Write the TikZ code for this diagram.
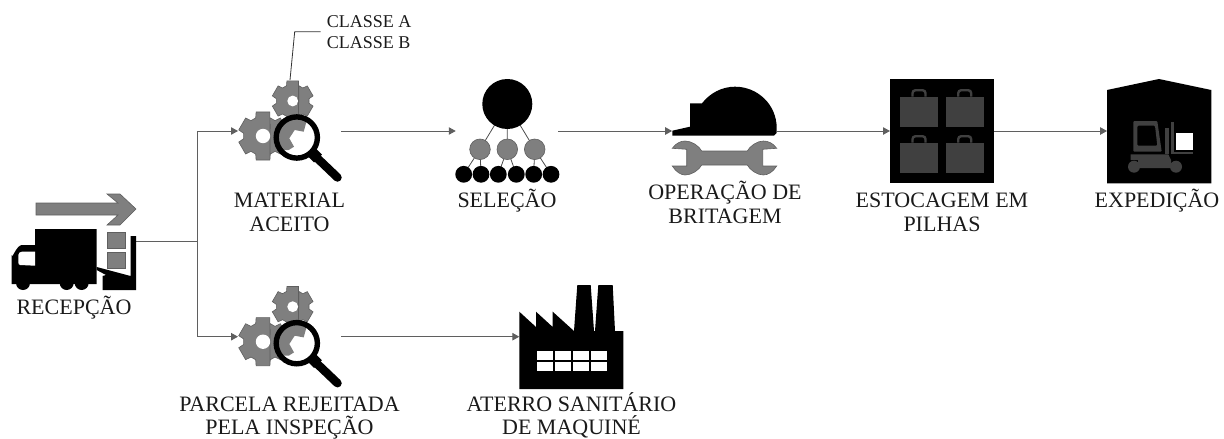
\documentclass[tikz,border=0pt]{standalone}
\usepackage{fontspec}
\setmainfont{Liberation Serif}
\usetikzlibrary{arrows.meta}
\definecolor{gfill}{HTML}{7F7F7F}
\definecolor{gline}{HTML}{5F5F5F}
\definecolor{dgrey}{HTML}{404040}
\definecolor{txt}{HTML}{1A1A1A}
\newcommand{\tall}{\rule{0pt}{21pt}}
\newcommand{\tallsmall}{\rule{0pt}{17pt}}
\tikzset{
  conn/.style={draw=gline,line width=1pt},
  tip/.style={-{Stealth[length=7pt,width=7.5pt,inset=0pt,fill=gline]}},
  leader/.style={draw=black!80,line width=0.8pt},
  icon/.style={inner sep=0pt,outer sep=0pt,minimum height=4pt},
  lab/.style={anchor=north,font=\fontsize{22}{24}\selectfont,text=txt,align=center,inner sep=0pt},
  labtight/.style={lab,font=\fontsize{22}{22.5}\selectfont},
  small/.style={anchor=north west,font=\fontsize{18}{21}\selectfont,text=txt,align=left,inner xsep=6pt,inner ysep=0pt},
  grey/.style={fill=gfill,draw=gline,line width=0.6pt},
  gearicon/.pic={
    \path[grey] (263,136) ++(74:25) \gearpath{263}{136}{25}{19.5}{90} -- cycle;
    \path[fill=white] (263,136) circle (7.2);
    \path[grey] (292.7,101) ++(74:21) \gearpath{292.7}{101}{21}{16.5}{90} -- cycle;
    \path[fill=white] (292.7,101) circle (5.4);
    \path[fill=white] (296.8,137.5) circle (20);
    \begin{scope}
      \clip (296.8,137.5) circle (20);
      \path[fill=gfill] (306,123.3) -- (303.7,131.7) -- (294.7,130) -- (289.3,138.3) -- (294,146.7) -- (288.7,150) -- (270,150) -- (270,110) -- (308,110) -- cycle;
    \end{scope}
    \draw[line width=5.4pt] (296.8,137.5) circle (20.6);
    \draw[line width=8.5pt,line cap=round] (316,157) -- (337.5,177.5);
    \draw[line width=11pt] (310.5,151) -- (318,158.5);
  },
}
\newcommand{\gearpath}[5]{%
  \foreach \k in {0,...,5}{
    -- ({#1+#3*cos(#5+60*\k-16)},{#2-#3*sin(#5+60*\k-16)})
    -- ({#1+#3*cos(#5+60*\k+16)},{#2-#3*sin(#5+60*\k+16)})
    -- ({#1+#4*cos(#5+60*\k+22)},{#2-#4*sin(#5+60*\k+22)})
    -- ({#1+#4*cos(#5+60*\k+38)},{#2-#4*sin(#5+60*\k+38)})
  }}
\begin{document}
\begin{tikzpicture}[x=1pt,y=-1pt]
\useasboundingbox (0,0) rectangle (1224,439);
% ---- anchors of the icons
\node[icon,minimum width=125pt] (recep) at (73.5,241.5) {};
\node[icon,minimum width=103pt] (gearA) at (289.5,131) {};
\node[icon,minimum width=102.5pt] (sel) at (507,131) {};
\node[icon,minimum width=104.7pt] (hat) at (724.5,131) {};
\node[icon,minimum width=104pt] (store) at (942,131) {};
\node[icon,minimum width=104.3pt] (ware) at (1159.2,131) {};
\node[icon,minimum width=103pt] (gearB) at (289.5,336.7) {};
\node[icon,minimum width=104pt] (fact) at (571.3,336.7) {};
\coordinate (bus) at (197,241.5);
\coordinate (bendc) at (294.7,31.7);
\coordinate (gearTop) at (290,80);
% ---- connectors
\draw[conn,tip] (recep.east) -- (bus) |- (gearA.west);
\draw[conn,tip] (bus) |- (gearB.west);
\draw[conn,tip] (gearA.east) -- (sel.west);
\draw[conn,tip] (sel.east) -- (hat.west);
\draw[conn,tip] (hat.east) -- (store.west);
\draw[conn,tip] (store.east) -- (ware.west);
\draw[conn,tip] (gearB.east) -- (fact.west);
% ---- reception
\path[grey] (36,203) -- (118,203) -- (107,194) -- (120,194) -- (136,209) -- (120,225) -- (107,225) -- (118,215) -- (36,215) -- cycle;
\fill (35,229) -- (96.7,229) -- (96.7,284) -- (11.7,284) -- (11.7,255) to[out=-90,in=180] (22,245) -- (35,245) -- cycle;
\fill (23,283) circle (7) (66.7,283) circle (7) (81.7,283) circle (7);
\fill[white] (22,251.7) -- (35,251.7) -- (35,265.7) -- (20,265) to[out=180,in=-90] (18.3,262) -- (18.3,255) to[out=90,in=180] (22,251.7) -- cycle;
\path[grey] (107,232) rectangle (125,248);
\path[grey] (107,252) rectangle (125,268);
\fill (96.7,267) -- (130.5,276) -- (130.5,236) -- (136,236) -- (136,290) -- (102.5,290) -- (102.5,276) -- (106,275) -- (96.7,270) -- cycle;
% ---- gears
\path (0,0) pic {gearicon};
\path (0,205.7) pic {gearicon};
% ---- selection
\draw[leader,draw=black!70] (507.3,104) -- (480,149.3) (507.3,104) -- (507.3,149.3) (507.3,104) -- (534.7,149.3);
\draw[leader,draw=black!70] (480,149.3) -- (463.7,174.3) (480,149.3) -- (481,174.3)
  (507.3,149.3) -- (498.3,174.3) (507.3,149.3) -- (516.3,174.3)
  (534.7,149.3) -- (533.7,174.3) (534.7,149.3) -- (551,174.3);
\fill (507.3,104) circle (25);
\foreach \x in {480,507.3,534.7}{\path[grey] (\x,149.3) circle (10.3);}
\foreach \x in {463.7,481,498.3,516.3,533.7,551}{\fill (\x,174.3) circle (8.4);}
% ---- hat and wrench
\fill (672.3,130.7) -- (690,126.7) -- (690,103.3) -- (702,103.3) .. controls (710,93) and (722,86.7) .. (735,86.7) .. controls (758,86.7) and (776.7,105) .. (776.7,128) -- (776.7,133) -- (774,135.7) -- (672.3,135.7) -- cycle;
\path[grey] (672.3,148.3) .. controls (676,143) and (681,141) .. (685,141) .. controls (692,141) and (699,146) .. (701.7,151)
  -- (747.3,151) .. controls (750,146) and (757,141) .. (763.3,141) .. controls (768,141) and (773,143) .. (776.7,148.3)
  -- (762.7,149.3) -- (762.7,166) -- (776.7,166) .. controls (773,172) and (768,175) .. (763.3,175) .. controls (757,175) and (750,170) .. (747.3,165)
  -- (701.7,165) .. controls (699,170) and (692,175) .. (685,175) .. controls (681,175) and (676,172) .. (672.3,166)
  -- (686.7,166) -- (686.7,149.3) -- cycle;
% ---- storage
\fill (890,79) rectangle (994,183.3);
\foreach \x in {900,945.7}{\foreach \y in {96.7,142.7}{
  \fill[dgrey] (\x,\y) rectangle ++(38,30.3);
  \draw[dgrey,line width=2.4pt,rounded corners=3pt] (\x+12.5,\y) -- (\x+12.5,\y-6.5) -- (\x+25.5,\y-6.5) -- (\x+25.5,\y);
}}
% ---- warehouse
\fill (1107,90) -- (1159,79) -- (1211.3,90) -- (1211.3,183.3) -- (1107,183.3) -- cycle;
\fill[dgrey,even odd rule,rounded corners=1pt] (1133.3,121) -- (1157.3,121) -- (1161.7,151.7) -- (1133.3,151.7) -- cycle
  (1137.3,125.7) -- (1155,125.7) -- (1157.3,145.7) -- (1137.3,145.7) -- cycle;
\fill[dgrey] (1130.7,154.3) -- (1168.3,154.3) -- (1171,160) -- (1171,168) -- (1138,168) -- (1138,160) -- (1130.7,160) -- cycle;
\fill[dgrey] (1134,166.7) circle (6) (1176,166.7) circle (6);
\fill[dgrey] (1165,127.7) rectangle (1169,154.3);
\fill[dgrey] (1171,121.7) rectangle (1174,154.3);
\fill[dgrey] (1171,151.7) rectangle (1193,154.3);
\fill[white] (1175.7,133.3) rectangle (1192.7,150);
% ---- factory
\fill (519.3,311.7) -- (536,327) -- (536,311.7) -- (552.7,327) -- (552.7,311.7) -- (574,331) -- (577.3,285) -- (590.7,285) -- (594,331) -- (595,331) -- (598.3,285) -- (612.7,285) -- (615,331) -- (623.3,331) -- (623.3,389) -- (519.3,389) -- cycle;
\foreach \x in {536.7,554.7,572.7,590.7}{\foreach \y in {351,362.3}{\fill[white] (\x,\y) rectangle ++(16,8.6);}}
% ---- labels (north = first baseline minus 21)
\node[lab] (tRecep) at (74,293) {\tall RECEPÇÃO};
\node[lab] (tMat) at (289.5,186) {\tall MATERIAL\\ACEITO};
\node[lab] (tSel) at (507,186) {\tall SELEÇÃO};
\node[lab] (tOp) at (725,178) {\tall OPERAÇÃO DE\\BRITAGEM};
\node[lab] (tEst) at (942,186) {\tall ESTOCAGEM EM\\PILHAS};
\node[lab] (tExp) at (1157,186) {\tall EXPEDIÇÃO};
\node[labtight] (tRej) at (289.5,390.5) {\tall PARCELA REJEITADA\\PELA INSPEÇÃO};
\node[labtight] (tAte) at (571.5,390.5) {\tall ATERRO SANITÁRIO\\DE MAQUINÉ};
\node[small] (classes) at (320.7,10.3) {\tallsmall CLASSE A\\CLASSE B};
\draw[leader] (classes.west |- bendc) -- (bendc) -- (gearTop);
\end{tikzpicture}
\end{document}
